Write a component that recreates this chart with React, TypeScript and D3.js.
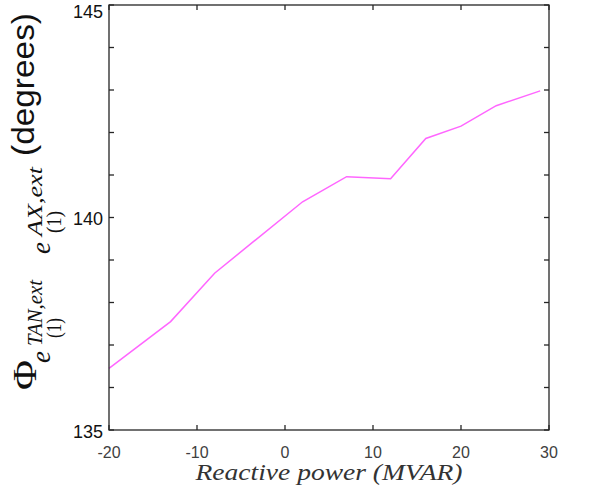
import React from "react";
import * as d3 from "d3";

const reactivePower = [-20, -13, -8, 2, 7, 12, 16, 20, 24, 29];
const phiDegrees = [136.45, 137.55, 138.69, 140.37, 140.96, 140.91, 141.86, 142.15, 142.63, 142.98];
const xTicks = [-20, -10, 0, 10, 20, 30];
const yTicks = [135, 136, 137, 138, 139, 140, 141, 142, 143, 144, 145];
const yLabelTicks = [135, 140, 145];

const W = 589;
const H = 493;
const left = 109, right = 549, top = 5, bottom = 430;

export default function App() {
  const x = d3.scaleLinear().domain([-20, 30]).range([left, right]);
  const y = d3.scaleLinear().domain([135, 145]).range([bottom, top]);
  const line = d3
    .line<number>()
    .x((_, i) => x(reactivePower[i]))
    .y((d) => y(d));
  const axisColor = "#262626";
  const tickLen = 5;
  const serif = "'Liberation Serif', 'DejaVu Serif', serif";
  const sans = "'Liberation Sans', Arial, sans-serif";
  return (
    <svg
      width={W}
      height={H}
      style={{ position: "absolute", left: 0, top: 0, background: "#fff" }}
    >
      <rect x={0} y={0} width={W} height={H} fill="#fff" />
      {/* data line */}
      <path d={line(phiDegrees) || ""} fill="none" stroke="#ff66ff" strokeWidth={1.5} />
      {/* frame */}
      <rect
        x={left}
        y={top}
        width={right - left}
        height={bottom - top}
        fill="none"
        stroke={axisColor}
        strokeWidth={1.3}
      />
      {/* x ticks top & bottom */}
      {xTicks.map((t) => (
        <g key={"xt" + t}>
          <line x1={x(t)} x2={x(t)} y1={bottom} y2={bottom - tickLen} stroke={axisColor} strokeWidth={1.3} />
          <line x1={x(t)} x2={x(t)} y1={top} y2={top + tickLen} stroke={axisColor} strokeWidth={1.3} />
          <text
            x={x(t)}
            y={458}
            textAnchor="middle"
            fontFamily={sans}
            fontSize={16}
            fill="#404040"
          >
            {t}
          </text>
        </g>
      ))}
      {/* y ticks left & right */}
      {yTicks.map((t) => (
        <g key={"yt" + t}>
          <line x1={left} x2={left + tickLen} y1={y(t)} y2={y(t)} stroke={axisColor} strokeWidth={1.3} />
          <line x1={right} x2={right - tickLen} y1={y(t)} y2={y(t)} stroke={axisColor} strokeWidth={1.3} />
        </g>
      ))}
      {yLabelTicks.map((t) => (
        <text
          key={"yl" + t}
          x={103}
          y={Math.max(y(t) + 7.5, 18)}
          textAnchor="end"
          fontFamily={sans}
          fontSize={18}
          fill="#111"
        >
          {t}
        </text>
      ))}
      {/* x axis label */}
      <text
        x={(left + right) / 2}
        y={480}
        textAnchor="middle"
        fontFamily={serif}
        fontStyle="italic"
        fontSize={23}
        fill="#333"
        textLength={267}
        lengthAdjust="spacingAndGlyphs"
      >
        Reactive power (MVAR)
      </text>
      {/* y axis label */}
      <g transform="rotate(-90)" fill="#111">
        <text x={-390} y={36} fontFamily={serif} fontSize={34} textLength={30} lengthAdjust="spacingAndGlyphs">
          Φ
        </text>
        <text x={-363} y={50} fontFamily={serif} fontStyle="italic" fontSize={27}>
          e
        </text>
        <text
          x={-346}
          y={42}
          fontFamily={serif}
          fontStyle="italic"
          fontSize={20}
          textLength={66}
          lengthAdjust="spacingAndGlyphs"
        >
          TAN,ext
        </text>
        <text x={-338} y={61} fontFamily={serif} fontSize={20} textLength={20} lengthAdjust="spacingAndGlyphs">
          (1)
        </text>
        <text x={-254} y={50} fontFamily={serif} fontStyle="italic" fontSize={27}>
          e
        </text>
        <text
          x={-236}
          y={42}
          fontFamily={serif}
          fontStyle="italic"
          fontSize={20}
          textLength={69}
          lengthAdjust="spacingAndGlyphs"
        >
          AX,ext
        </text>
        <text x={-233} y={61} fontFamily={serif} fontSize={20} textLength={22} lengthAdjust="spacingAndGlyphs">
          (1)
        </text>
        <text
          x={-156}
          y={34}
          fontFamily={sans}
          fontSize={32}
          textLength={143}
          lengthAdjust="spacingAndGlyphs"
        >
          (degrees)
        </text>
      </g>
    </svg>
  );
}
